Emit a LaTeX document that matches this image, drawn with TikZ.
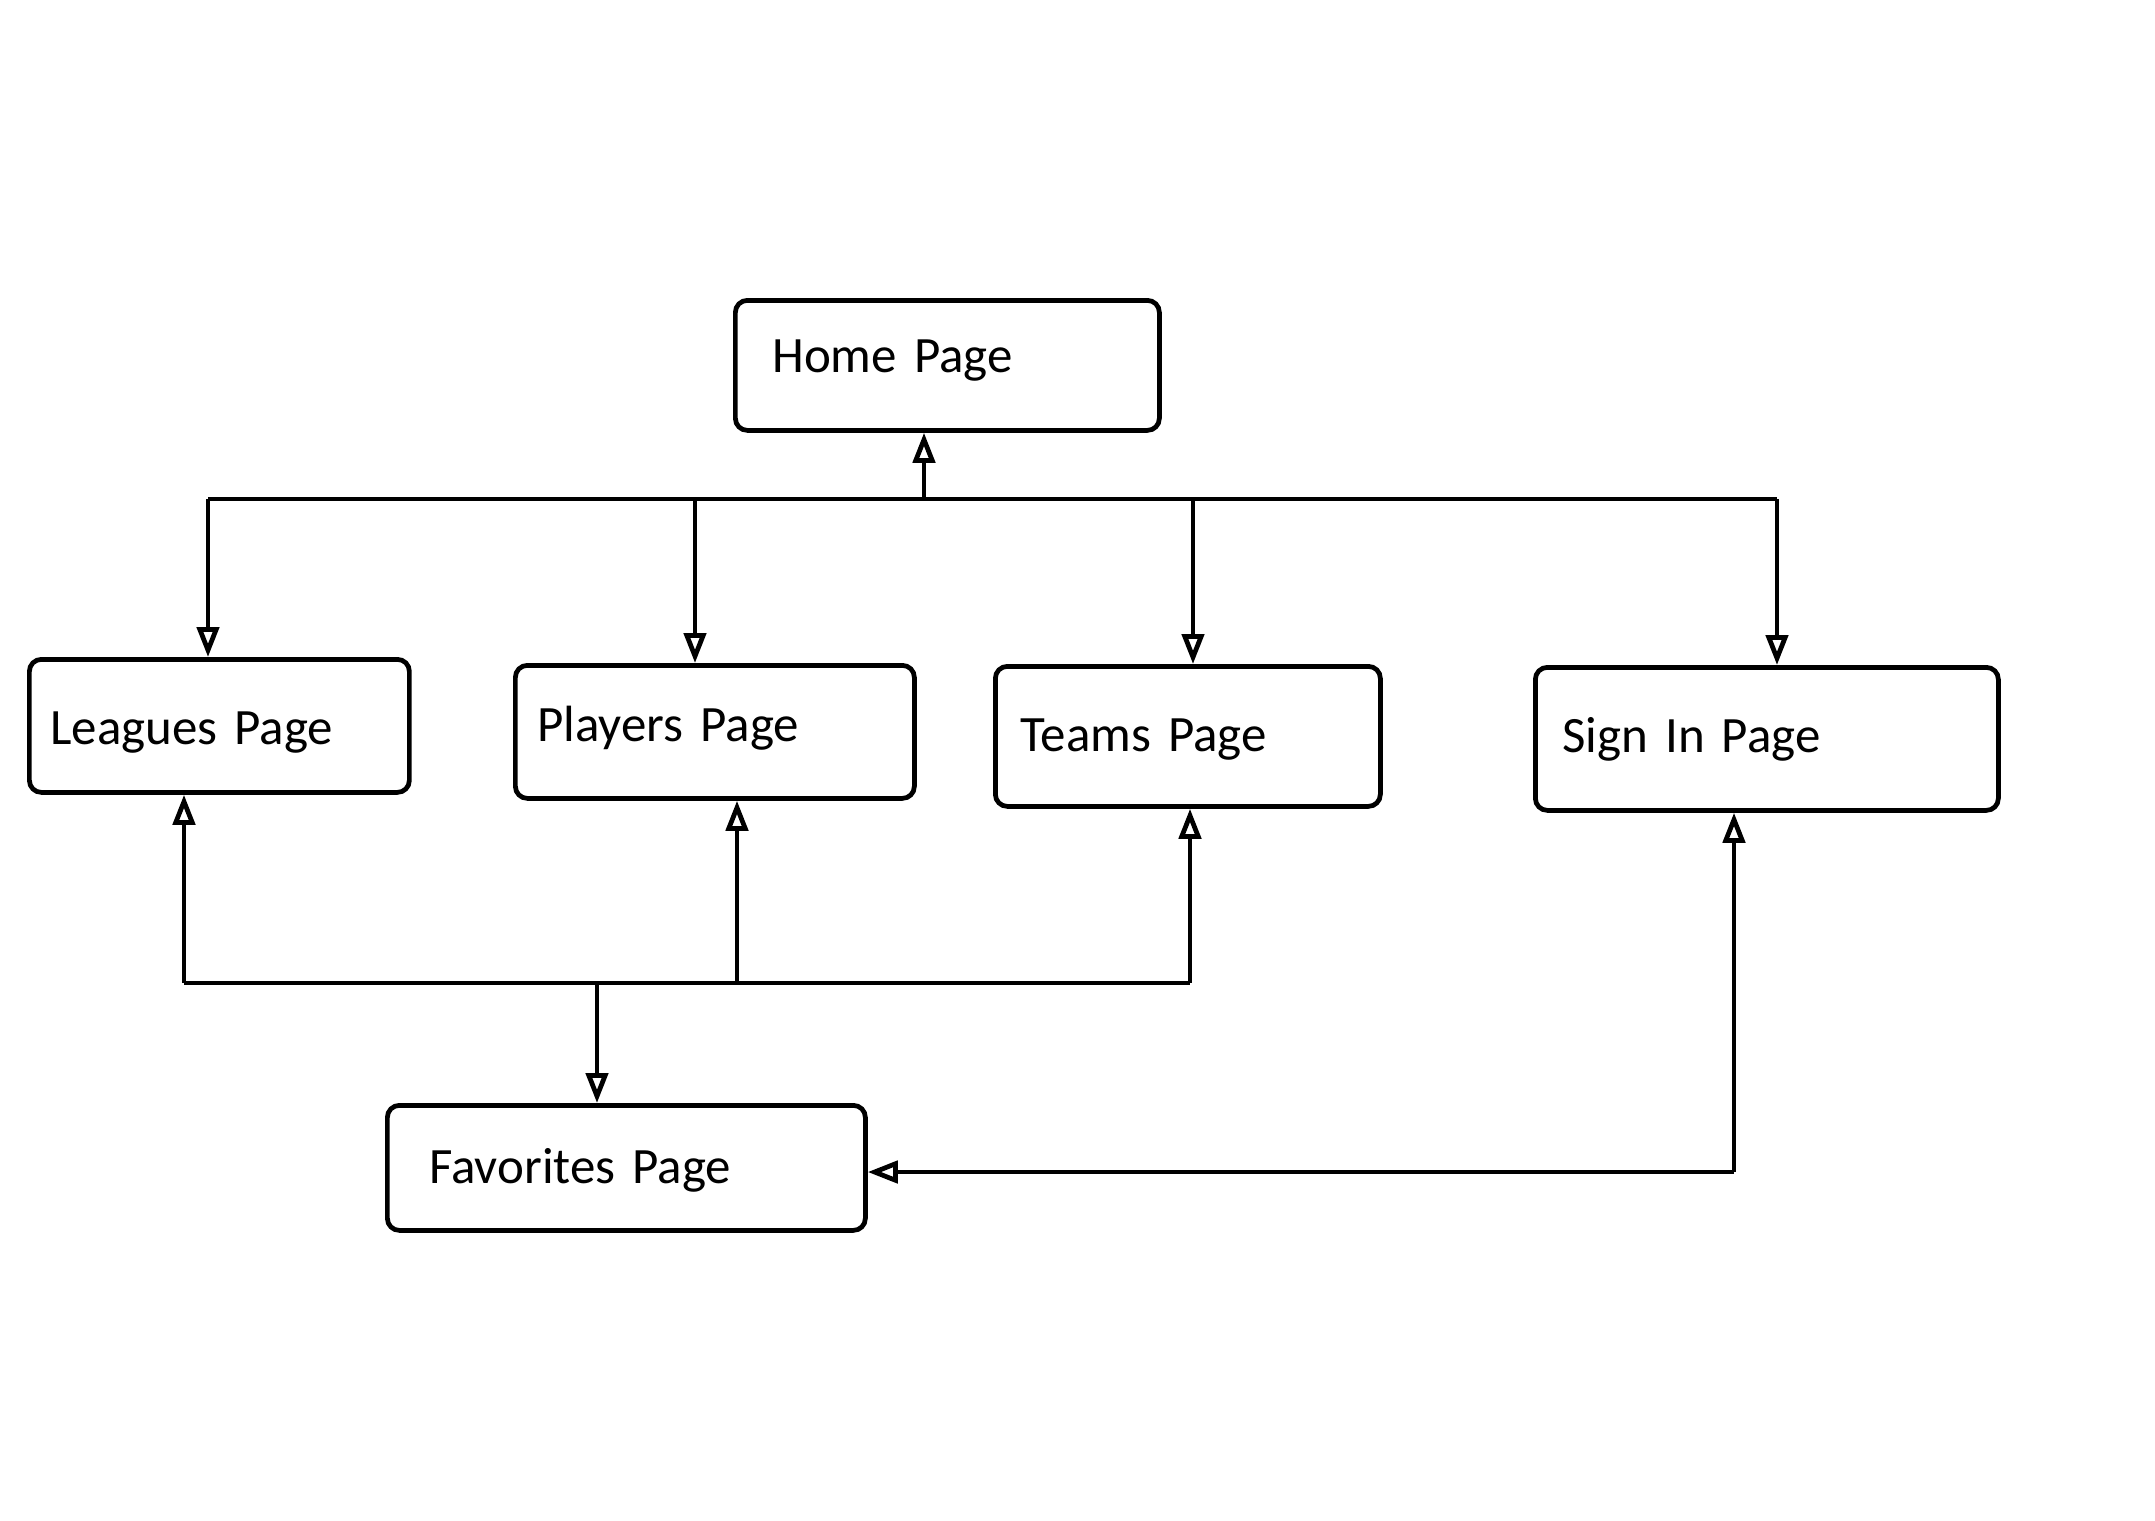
\documentclass[tikz,border=0pt]{standalone}
\usepackage{fontspec}
\setmainfont{Carlito}
\usetikzlibrary{arrows.meta}

\begin{document}
\begin{tikzpicture}[
  x=1cm, y=1cm,
  pagebox/.style={draw, line width=1.35pt, rounded corners=3.4pt, anchor=north west,
    align=left, inner ysep=0pt, text depth=0pt,
    font=\fontsize{14.5}{17}\selectfont},
  link/.style={line width=1.35pt},
  arr/.style={link, -{Triangle[open, length=0.30cm, width=0.22cm]}}
]
\useasboundingbox (0,0) rectangle (21.55,-15.20);

% page boxes: minimum width = text width + 2*inner xsep;
% text height sets where the baseline sits inside each box
\node[pagebox, inner xsep=0.37cm, text width=3.50cm, minimum height=1.30cm, text height=0.14cm] (home) at (7.33,-2.98) {Home Page};
\node[pagebox, inner xsep=0.21cm, text width=3.38cm, minimum height=1.33cm, text height=0.37cm] (leag) at (0.27,-6.57) {Leagues Page};
\node[pagebox, inner xsep=0.22cm, text width=3.55cm, minimum height=1.33cm, text height=0.19cm] (play) at (5.13,-6.63) {Players Page};
\node[pagebox, inner xsep=0.25cm, text width=3.35cm, minimum height=1.40cm, text height=0.30cm] (team) at (9.93,-6.64) {Teams Page};
\node[pagebox, inner xsep=0.27cm, text width=4.09cm, minimum height=1.43cm, text height=0.27cm] (sign) at (15.33,-6.65) {Sign In Page};
\node[pagebox, inner xsep=0.42cm, text width=3.94cm, minimum height=1.25cm, text height=0.31cm] (fav) at (3.85,-11.03) {Favorites Page};

% upper bus: Home <-> section pages
\coordinate (tl) at (2.08,-4.99);
\coordinate (tp) at (6.95,-4.99);
\coordinate (th) at (9.24,-4.99);
\coordinate (tt) at (11.93,-4.99);
\coordinate (ts) at (17.77,-4.99);
\draw[link] (tl) -- (ts);
\draw[arr] (th) -- (th |- home.south);
\draw[arr] (tl) -- (tl |- leag.north);
\draw[arr] (tp) -- (tp |- play.north);
\draw[arr] (tt) -- (tt |- team.north);
\draw[arr] (ts) -- (ts |- sign.north);

% lower bus: Favorites <-> section pages
\coordinate (bl) at (1.84,-9.83);
\coordinate (bf) at (5.97,-9.83);
\coordinate (bp) at (7.37,-9.83);
\coordinate (bt) at (11.90,-9.83);
\draw[link] (bl) -- (bt);
\draw[arr] (bl) -- (bl |- leag.south);
\draw[arr] (bp) -- (bp |- play.south);
\draw[arr] (bt) -- (bt |- team.south);
\draw[arr] (bf) -- (bf |- fav.north);

% Sign In <-> Favorites
\coordinate (sc) at (17.34,-11.72);
\draw[arr] (sc) -- (sc |- sign.south);
\draw[arr] (sc) -- (sc -| fav.east);
\end{tikzpicture}
\end{document}
